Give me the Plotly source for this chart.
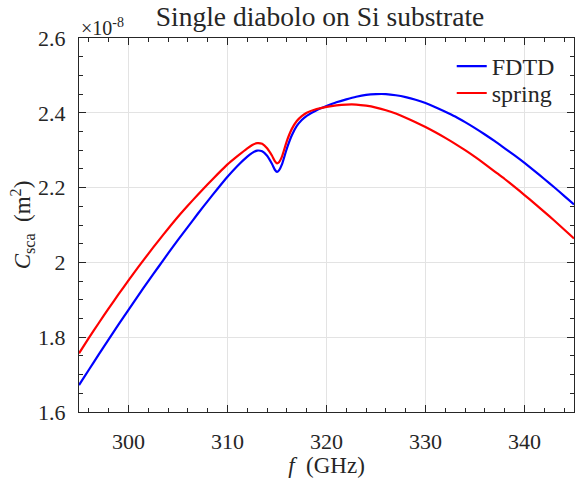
import plotly.graph_objects as go

# Frequencies (GHz) and scattering cross sections (units of 1e-8 m^2)
f_fdtd = [295, 296, 297, 298, 299, 300, 301, 302, 303, 304, 305, 306, 307, 308, 309, 310,
          311, 312, 312.5, 313, 313.5, 314, 314.5, 314.8, 315, 315.2, 315.5, 316, 316.5,
          317, 317.5, 318, 319, 320, 321, 322, 323, 324, 325, 326, 327, 328, 329, 330,
          331, 332, 333, 334, 335, 336, 337, 338, 339, 340, 341, 342, 343, 344, 345]
c_fdtd = [1.672, 1.713, 1.754, 1.794, 1.834, 1.873, 1.912, 1.950, 1.987, 2.024, 2.060, 2.095,
          2.130, 2.164, 2.197, 2.229,
          2.258, 2.283, 2.293, 2.299, 2.297, 2.285, 2.263, 2.247, 2.242, 2.246, 2.262, 2.305,
          2.340, 2.365, 2.381, 2.392, 2.407, 2.418, 2.428, 2.436, 2.443, 2.448, 2.450, 2.450,
          2.447, 2.442, 2.435, 2.426, 2.415, 2.403, 2.390, 2.375, 2.359, 2.342, 2.324, 2.305,
          2.286, 2.266, 2.245, 2.223, 2.201, 2.178, 2.155]

f_spring = [295, 296, 297, 298, 299, 300, 301, 302, 303, 304, 305, 306, 307, 308, 309, 310,
            311, 312, 312.5, 313, 313.5, 314, 314.5, 314.8, 315, 315.2, 315.5, 316, 316.5,
            317, 317.5, 318, 319, 320, 321, 322, 323, 324, 325, 326, 327, 328, 329, 330,
            331, 332, 333, 334, 335, 336, 337, 338, 339, 340, 341, 342, 343, 344, 345]
c_spring = [1.757, 1.798, 1.838, 1.877, 1.915, 1.952, 1.988, 2.023, 2.057, 2.090, 2.122, 2.152,
            2.181, 2.209, 2.236, 2.262,
            2.284, 2.305, 2.314, 2.319, 2.317, 2.305, 2.285, 2.270, 2.265, 2.268, 2.283, 2.325,
            2.357, 2.378, 2.391, 2.400, 2.410, 2.416, 2.420, 2.422, 2.422, 2.419, 2.414, 2.407,
            2.398, 2.387, 2.375, 2.362, 2.348, 2.333, 2.317, 2.300, 2.282, 2.263, 2.243, 2.223,
            2.202, 2.180, 2.158, 2.135, 2.112, 2.088, 2.064]

x_ticks = [300, 310, 320, 330, 340]
y_ticks = [1.6, 1.8, 2.0, 2.2, 2.4, 2.6]
y_ticklabels = ["1.6", "1.8", "2", "2.2", "2.4", "2.6"]

FONT = "Liberation Serif"
AXC = "#262626"
TXT = "#262626"

fig = go.Figure()
fig.add_trace(go.Scatter(x=f_fdtd, y=c_fdtd, mode="lines", name="FDTD", legend="legend",
                         line=dict(color="#0000ff", width=2.2, shape="spline", smoothing=0.6)))
fig.add_trace(go.Scatter(x=f_spring, y=c_spring, mode="lines", name="spring", legend="legend2",
                         line=dict(color="#ff0000", width=2.2, shape="spline", smoothing=0.6)))

axis_common = dict(showline=True, linecolor=AXC, linewidth=1, mirror="ticks",
                   ticks="inside", ticklen=7, tickcolor=AXC, showgrid=True,
                   gridcolor="#e3e3e3", gridwidth=1, zeroline=False,
                   tickfont=dict(family=FONT, size=22, color=TXT))

fig.update_xaxes(range=[295, 345], tickvals=x_ticks, ticklabelstandoff=10,
                 minor=dict(dtick=2, tick0=294, ticks="inside", ticklen=4, tickcolor=AXC, showgrid=False),
                 title=dict(text="<i>f</i>  (GHz)", font=dict(family=FONT, size=23, color=TXT), standoff=1),
                 automargin=False,
                 **axis_common)
fig.update_yaxes(range=[1.6, 2.6], tickvals=y_ticks, ticktext=y_ticklabels, ticklabelstandoff=8,
                 minor=dict(dtick=0.05, tick0=1.6, ticks="inside", ticklen=4, tickcolor=AXC, showgrid=False),
                 title=dict(text="<i>C</i><sub>sca</sub>  (m<sup>2</sup>)",
                            font=dict(family=FONT, size=23, color=TXT), standoff=0),
                 automargin=False,
                 **axis_common)

fig.add_annotation(x=0, y=1, xref="paper", yref="paper", xanchor="left", yanchor="bottom",
                   text="×10<sup>-8</sup>", showarrow=False, yshift=-3, xshift=0,
                   font=dict(family=FONT, size=20, color=TXT))

legend_common = dict(xanchor="left", yanchor="top", bgcolor="rgba(0,0,0,0)", borderwidth=0,
                     font=dict(family=FONT, size=24, color=TXT))

fig.update_layout(
    width=576, height=478,
    margin=dict(l=79, r=2, t=38, b=66),
    paper_bgcolor="white", plot_bgcolor="white",
    font=dict(family=FONT, color=TXT),
    title=dict(text="Single diabolo on Si substrate", x=320 / 576, xanchor="center",
               y=1 - 16 / 478, yanchor="middle",
               font=dict(family=FONT, size=27.5, color=TXT)),
    showlegend=True,
    legend=dict(x=0.753, y=0.984, **legend_common),
    legend2=dict(x=0.753, y=0.912, **legend_common),
)

fig.write_html("out.html", config={"displayModeBar": False},
               post_script="document.body.style.margin='0';")
